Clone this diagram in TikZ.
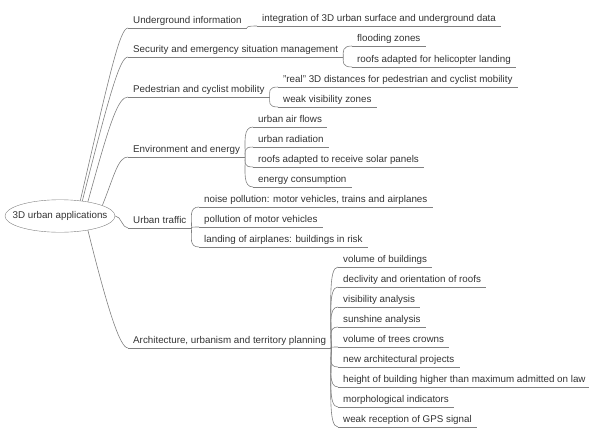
\documentclass[tikz,border=0pt]{standalone}
\usepackage{fontspec}
\setmainfont{Liberation Sans}
\usetikzlibrary{shapes.geometric,calc}
\definecolor{linegray}{RGB}{128,128,128}

\begin{document}
\begin{tikzpicture}[
    x=1pt,y=-1pt,
    central/.style={ellipse,draw=linegray,inner xsep=-8.5pt,inner ysep=7pt,text height=7pt,text depth=2pt},
    topic/.style={anchor=south west,inner xsep=5pt,inner ysep=2pt,text height=7pt,text depth=2pt},
    link/.style={draw=linegray,line width=0.6pt},
    font=\fontsize{9.8}{11}\selectfont,
    text=black!80
  ]
  \useasboundingbox (0,0) rectangle (589,428);

  %% Central node
  \node[central] (root) at (60,216) {3D urban applications};

  %% First level
  \node[topic] (ug) at (128,28)  {Underground information};
  \node[topic] (se) at (128,57)  {Security and emergency situation management};
  \node[topic] (pc) at (128,97)  {Pedestrian and cyclist mobility};
  \node[topic] (ee) at (128,157) {Environment and energy};
  \node[topic] (ut) at (128,228) {Urban traffic};
  \node[topic] (au) at (128,348) {Architecture, urbanism and territory planning};

  %% Second level
  \node[topic] (ug1) at (257,26) {integration of 3D urban surface and underground data};

  \node[topic] (se1) at (352,46) {flooding zones};
  \node[topic] (se2) at (352,67) {roofs adapted for helicopter landing};

  \node[topic] (pc1) at (278,87)  {"real" 3D distances for pedestrian and cyclist mobility};
  \node[topic] (pc2) at (278,107) {weak visibility zones};

  \node[topic] (ee1) at (253,127) {urban air flows};
  \node[topic] (ee2) at (253,147) {urban radiation};
  \node[topic] (ee3) at (253,167) {roofs adapted to receive solar panels};
  \node[topic] (ee4) at (253,187) {energy consumption};

  \node[topic] (ut1) at (199,207) {noise pollution: motor vehicles, trains and airplanes};
  \node[topic] (ut2) at (199,227) {pollution of motor vehicles};
  \node[topic] (ut3) at (199,247) {landing of airplanes: buildings in risk};

  \node[topic] (au1) at (338,267) {volume of buildings};
  \node[topic] (au2) at (338,287) {declivity and orientation of roofs};
  \node[topic] (au3) at (338,307) {visibility analysis};
  \node[topic] (au4) at (338,327) {sunshine analysis};
  \node[topic] (au5) at (338,347) {volume of trees crowns};
  \node[topic] (au6) at (338,367) {new architectural projects};
  \node[topic] (au7) at (338,387) {height of building higher than maximum admitted on law};
  \node[topic] (au8) at (338,407) {morphological indicators};
  \node[topic] (au9) at (338,427) {weak reception of GPS signal};

  %% underlines
  \foreach \n in {ug,se,pc,ee,ut,au,ug1,se1,se2,pc1,pc2,ee1,ee2,ee3,ee4,
                  ut1,ut2,ut3,au1,au2,au3,au4,au5,au6,au7,au8,au9}
    \draw[link] (\n.south west) -- (\n.south east);

  %% central node -> first level
  \draw[link] (root.37) .. controls +(30,-130) and +(-8,0) .. (ug.south west);
  \draw[link] (root.34) .. controls +(28,-110) and +(-8,0) .. (se.south west);
  \draw[link] (root.27) .. controls +(22,-80) and +(-10,0) .. (pc.south west);
  \draw[link] (root.14) .. controls +(12,-30) and +(-10,0) .. (ee.south west);
  \draw[link] (root.east) .. controls +(6,0) and +(-6,0) .. (ut.south west);
  \draw[link] (root.-27) .. controls +(20,80) and +(-8,0) .. (au.south west);

  %% first level -> second level
  \foreach \p/\c in {ug/ug1,se/se1,se/se2,pc/pc1,pc/pc2,ee/ee1,ee/ee2,ee/ee3,ee/ee4,
                     ut/ut1,ut/ut2,ut/ut3,au/au1,au/au2,au/au3,au/au4,au/au5,
                     au/au6,au/au7,au/au8,au/au9}
    \draw[link] (\p.south east)
      .. controls ($(\p.south east)!0.5!(\p.south east |- \c.south west)$) and +(-10,0)
      .. (\c.south west);
\end{tikzpicture}
\end{document}
